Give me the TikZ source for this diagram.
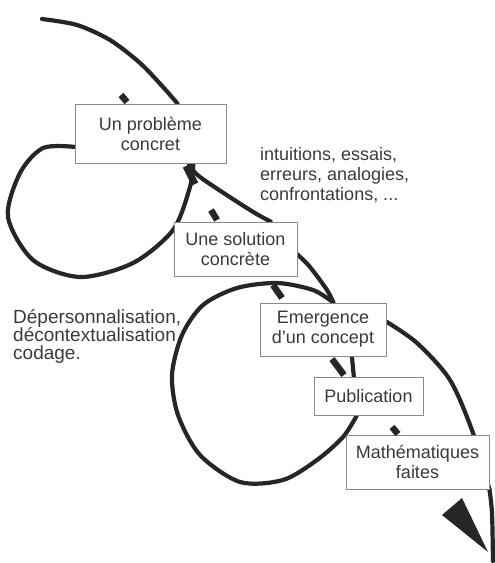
\documentclass[tikz,border=0pt]{standalone}
\usepackage{fontspec}
\setmainfont{Liberation Sans}
\usetikzlibrary{positioning}
\pgfdeclarelayer{background}
\pgfsetlayers{background,main}
\definecolor{encre}{HTML}{262626}
\definecolor{cadre}{HTML}{8A8A8A}
\definecolor{texte}{HTML}{3A3A3A}
\tikzset{
  boite/.style={draw=cadre, line width=0.9pt, fill=white, align=center, text=texte,
    inner sep=0pt, font=\fontsize{18}{20}\selectfont},
  courbe/.style={draw=encre, line width=4.2pt, line cap=round},
  marque/.style={draw=encre, line width=6.5pt},
  note/.style={align=left, text=texte, inner sep=0pt, anchor=north west}
}

\begin{document}
\begin{tikzpicture}[x=1pt, y=-1pt]
  \useasboundingbox (0,0) rectangle (495,563);

  % les etapes
  \node (probleme) [boite, minimum width=151pt, minimum height=59pt] at (150.5,133.5) {Un problème\\concret};
  \node (solution) [boite, minimum width=123pt, minimum height=54pt] at (235.5,249) {Une solution\\concrète};
  \node (concept) [boite, minimum width=126pt, minimum height=53pt] at (323,329.5) {Emergence\\d'un concept};
  \node (publication) [boite, minimum width=109pt, minimum height=38pt] at (368.5,396) {Publication};
  \node (mathfaites) [boite, minimum width=143pt, minimum height=54pt] at (417.5,462) {Mathématiques\\faites};

  % les commentaires
  \node (intuitions) [note, font=\fontsize{18}{20}\selectfont] at (260,147) {intuitions, essais,\\erreurs, analogies,\\confrontations, ...};
  \node (codage) [note, font=\fontsize{19}{18}\selectfont] at (13,309) {Dépersonnalisation,\\décontextualisation\\codage.};

  \coordinate (debut) at (42,19);
  \coordinate (fin) at (493,561);

  \begin{pgfonlayer}{background}
    \draw [courbe] plot [smooth] coordinates {(debut) (77,25) (110,40) (140,63) (163,87) (probleme.48)};
    \draw [courbe] plot [smooth] coordinates {(probleme.190) (43,148) (20,173) (8,217) (33,260) (80,277) (133,263) (173,230) (190,187) (probleme.-35)};
    \draw [courbe] plot [smooth] coordinates {(probleme.-38) (200,177) (250,210) (solution.38)};
    \draw [courbe] plot [smooth] coordinates {(solution.-5) (310,267) (327,290) (concept.69)};
    \draw [courbe] plot [smooth] coordinates {(concept.69) (313,290) (277,283) (237,288) (203,305) (182,335) (172,375) (178,415) (200,455) (240,482) (283,480) (317,460) (343,437) (publication.-121)};
    \draw [courbe] (publication.127) -- (concept.-43);
    \draw [courbe] plot [smooth] coordinates {(concept.7) (417,343) (450,380) (473,433) (mathfaites.south east)};
    \draw [courbe] plot [smooth] coordinates {(mathfaites.south east) (492,513) (fin)};
  \end{pgfonlayer}

  % les fleches
  \draw [marque] (121,95) -- (127,102);
  \draw [marque, line width=7pt] (186,166) -- (195,184);
  \draw [marque] (211,210) -- (217,220);
  \draw [marque] (273,285) -- (282,298);
  \draw [marque] (332,359) -- (344,375);
  \draw [marque] (392,427) -- (398,434);
  \fill [encre] (442,515) -- (462,498) -- (488,552) -- cycle;
\end{tikzpicture}
\end{document}
